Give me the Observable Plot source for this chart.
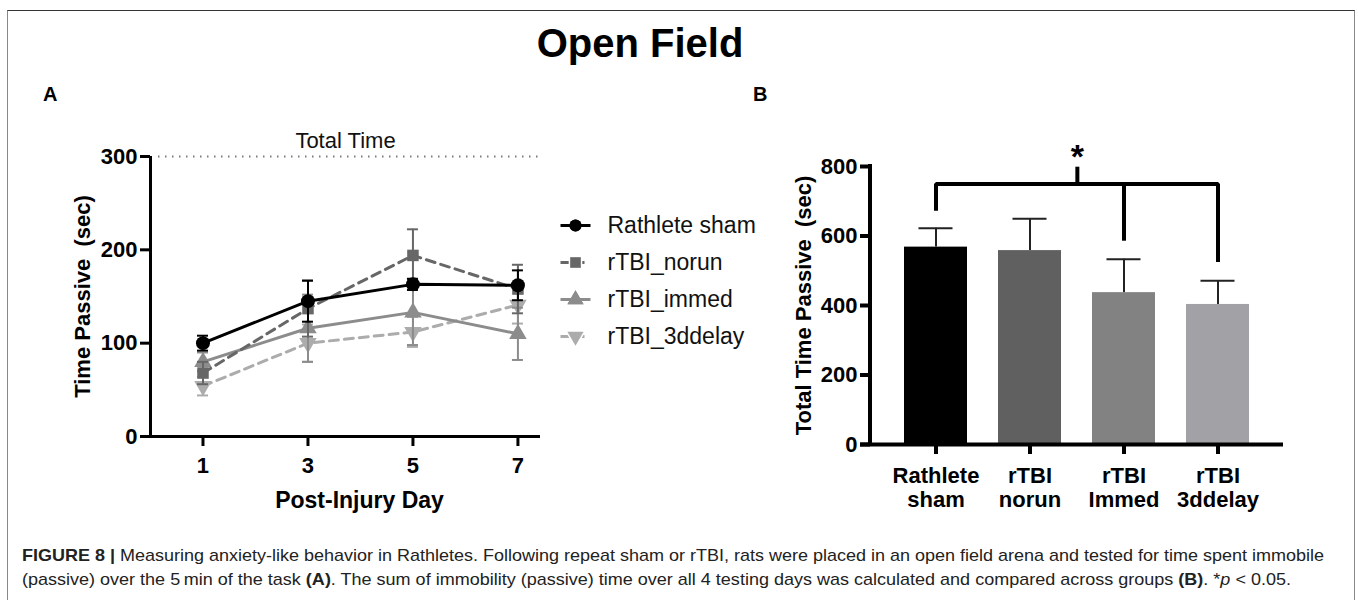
<!DOCTYPE html>
<html>
<head>
<meta charset="utf-8">
<script src="https://cdn.jsdelivr.net/npm/d3@7"></script>
<script src="https://cdn.jsdelivr.net/npm/@observablehq/plot@0.6"></script>
<style>
  html, body { margin: 0; padding: 0; background: #fff; }
  #fig { position: relative; width: 1358px; height: 600px; overflow: hidden; font-family: "Liberation Sans", Arial, sans-serif; color: #000; }
  #border { position: absolute; left: 7px; top: 10px; width: 1346px; height: 600px; border-top: 1.5px solid #333; border-left: 1.5px solid #888; border-right: 1.5px solid #888; }
  .abs { position: absolute; }
  #title { left: 0; width: 1280px; top: 23px; text-align: center; font-size: 40px; font-weight: bold; line-height: 1; }
  .panel { font-size: 20px; font-weight: bold; line-height: 1; }
</style>
</head>
<body>
<div id="fig">
  <div id="border"></div>
  <div id="title" class="abs">Open Field</div>
  <div class="abs panel" style="left:43px; top:84px;">A</div>
  <div class="abs panel" style="left:753px; top:84px;">B</div>
  <div id="panelA" class="abs" style="left:0; top:0;"></div>
  <div id="legendA" class="abs" style="left:540px; top:190px;"></div>
  <div id="panelB" class="abs" style="left:680px; top:0;"></div>
  <div id="caption" class="abs" style="left:0; top:535px;"></div>
</div>
<script>
// ---------------- Data: Panel A ----------------
const days = [1, 3, 5, 7];
const groups = ["Rathlete sham", "rTBI_norun", "rTBI_immed", "rTBI_3ddelay"];
const shamMean  = [100, 145, 163, 162];
const shamErr   = [8, 22, 6, 16];
const norunMean = [68, 137, 194, 158];
const norunErr  = [12, 30, 28, 26];
const immedMean = [80, 116, 133, 110];
const immedErr  = [10, 36, 35, 28];
const delayMean = [54, 100, 112, 141];
const delayErr  = [10, 20, 16, 20];
const totalTime = 300;
const totalTimeLabel = "Total Time";
const yTicksA = [0, 100, 200, 300];

// ---------------- Data: Panel B ----------------
const barNames  = ["Rathlete sham", "rTBI norun", "rTBI Immed", "rTBI 3ddelay"];
const barLabels = ["Rathlete\nsham", "rTBI\nnorun", "rTBI\nImmed", "rTBI\n3ddelay"];
const barMeans  = [568, 558, 437, 403];
const barErrs   = [54, 92, 96, 68];
const yTicksB = [0, 200, 400, 600, 800];
const bracketTop = 750;
const bracketStemTop = 798;
const bracketDrops = [673, null, 585, 525];
const starY = 828;

// ---------------- Styles ----------------
const lineColors = ["#000000", "#676767", "#8c8c8c", "#acacac"];
const lineDash   = [null, "9,6", null, "9,6"];
const symbols    = ["circle", "square", "triangle", "triangle"];
const rotations  = [0, 0, 0, 180];
const barColors  = ["#000000", "#606060", "#828282", "#a2a2a6"];

const means = [shamMean, norunMean, immedMean, delayMean];
const errs  = [shamErr, norunErr, immedErr, delayErr];
const rows = groups.map((g, gi) => days.map((d, i) => ({group: g, gi, day: d, mean: means[gi][i], err: errs[gi][i]})));

const font = "'Liberation Sans', Arial, sans-serif";

// ---------------- Panel A ----------------
const A = {width: 560, height: 520, ml: 150, mr: 20, mt: 156, mb: 84};
const xMaxA = 7.43;
const pxPerDay = (A.width - A.ml - A.mr) / xMaxA;
const capHalf = 5.5 / pxPerDay;

const marksA = [
  Plot.ruleY([totalTime], {stroke: "#7a7a7a", strokeWidth: 2, strokeDasharray: "1.5,5.5", insetLeft: 8}),
  Plot.text([totalTimeLabel], {frameAnchor: "top", lineAnchor: "bottom", dy: -9, dx: 0, fontSize: 22, fill: "#111"})
];
[3, 2, 1, 0].forEach(gi => {
  const data = rows[gi];
  const c = lineColors[gi];
  marksA.push(
    Plot.ruleX(data, {x: "day", y1: d => d.mean - d.err, y2: d => d.mean + d.err, stroke: c, strokeWidth: 2}),
    Plot.ruleY(data, {y: d => d.mean + d.err, x1: d => d.day - capHalf, x2: d => d.day + capHalf, stroke: c, strokeWidth: 2}),
    Plot.ruleY(data, {y: d => d.mean - d.err, x1: d => d.day - capHalf, x2: d => d.day + capHalf, stroke: c, strokeWidth: 2}),
    Plot.line(data, {x: "day", y: "mean", stroke: c, strokeWidth: 3, strokeDasharray: lineDash[gi]}),
    Plot.dot(data, {x: "day", y: "mean", fill: c, stroke: "none", symbol: symbols[gi], r: gi === 0 ? 7 : 6.5, rotate: rotations[gi]})
  );
});
marksA.push(
  Plot.ruleX([0], {stroke: "#000", strokeWidth: 3}),
  Plot.ruleY([0], {stroke: "#000", strokeWidth: 3}),
  Plot.axisY({ticks: yTicksA, tickSize: 10, tickPadding: 3, strokeWidth: 3, fontSize: 22, fontWeight: "bold", label: null}),
  Plot.axisX({ticks: days, tickSize: 10, tickPadding: 11, strokeWidth: 3, fontSize: 22, fontWeight: "bold", label: null}),
  Plot.text(["Time Passive  (sec)"], {frameAnchor: "left", textAnchor: "middle", rotate: -90, dx: -68, fontSize: 22, fontWeight: "bold"}),
  Plot.text(["Post-Injury Day"], {frameAnchor: "bottom", lineAnchor: "middle", dy: 64, dx: 14, fontSize: 23, fontWeight: "bold"})
);

const plotA = Plot.plot({
  width: A.width, height: A.height,
  marginLeft: A.ml, marginRight: A.mr, marginTop: A.mt, marginBottom: A.mb,
  x: {domain: [0, xMaxA]},
  y: {domain: [0, 300]},
  style: {fontFamily: font, color: "#000", background: "transparent", overflow: "visible"},
  marks: marksA
});
document.getElementById("panelA").appendChild(plotA);

// ---------------- Legend A ----------------
const legendRows = groups.map((g, gi) => ({group: g, gi}));
const legendMarks = [];
legendRows.forEach(r => {
  const c = lineColors[r.gi];
  legendMarks.push(
    Plot.link([r], {x1: () => 0, x2: () => 1, y1: "group", y2: "group", stroke: c, strokeWidth: 3, strokeDasharray: lineDash[r.gi]}),
    Plot.dot([r], {x: () => 0.5, y: "group", fill: c, stroke: r.gi % 2 ? "#fff" : "none", strokeWidth: r.gi % 2 ? 3 : 0, symbol: symbols[r.gi], r: 6, rotate: rotations[r.gi]}),
    Plot.dot([r], {x: () => 0.5, y: "group", fill: c, symbol: symbols[r.gi], r: 6, rotate: rotations[r.gi]})
  );
});
legendMarks.push(Plot.text(legendRows, {x: () => 1, y: "group", text: "group", textAnchor: "start", dx: 17, fontSize: 23, fill: "#111"}));
const legend = Plot.plot({
  width: 240, height: 170, margin: 0,
  x: {domain: [0, 1], range: [20, 50], axis: null},
  y: {type: "point", domain: groups, range: [34, 147], padding: 0, axis: null},
  style: {fontFamily: font, color: "#000", background: "transparent", overflow: "visible"},
  marks: legendMarks
});
document.getElementById("legendA").appendChild(legend);

// ---------------- Panel B ----------------
const B = {width: 678, height: 520, ml: 190, mr: 75, mt: 166, mb: 76};
const padInner = 0.335, padOuter = 0.348;
const stepB = (B.width - B.ml - B.mr) / (barNames.length - padInner + 2 * padOuter);
const bandB = stepB * (1 - padInner);
const capInset = (bandB - 34) / 2;
const bars = barNames.map((n, i) => ({name: n, label: barLabels[i], mean: barMeans[i], err: barErrs[i]}));
const bracketPath = [
  {name: barNames[0], y: bracketDrops[0]},
  {name: barNames[0], y: bracketTop},
  {name: barNames[3], y: bracketTop},
  {name: barNames[3], y: bracketDrops[3]}
];
const bracketMid = [{name: barNames[2], y1: bracketDrops[2], y2: bracketTop}];
const stem = [{name: barNames[1], y1: bracketTop, y2: bracketStemTop, star: "*"}];

const plotB = Plot.plot({
  width: B.width, height: B.height,
  marginLeft: B.ml, marginRight: B.mr, marginTop: B.mt, marginBottom: B.mb,
  x: {domain: barNames, paddingInner: padInner, paddingOuter: padOuter},
  y: {domain: [0, 800]},
  color: {domain: barNames, range: barColors},
  style: {fontFamily: font, color: "#000", background: "transparent", overflow: "visible"},
  marks: [
    Plot.ruleX(bars, {x: "name", y1: "mean", y2: d => d.mean + d.err, stroke: "#222", strokeWidth: 2}),
    Plot.tickY(bars, {x: "name", y: d => d.mean + d.err, stroke: "#222", strokeWidth: 2, insetLeft: capInset, insetRight: capInset}),
    Plot.barY(bars, {x: "name", y: "mean", fill: "name"}),
    Plot.line(bracketPath, {x: "name", y: "y", stroke: "#000", strokeWidth: 4, strokeLinejoin: "miter", strokeLinecap: "butt"}),
    Plot.ruleX(bracketMid, {x: "name", y1: "y1", y2: "y2", stroke: "#000", strokeWidth: 4}),
    Plot.ruleX(stem, {x: "name", y1: "y1", y2: "y2", dx: stepB / 2, stroke: "#000", strokeWidth: 4}),
    Plot.text(stem, {x: "name", y: () => starY, text: "star", dx: stepB / 2, fontSize: 34, fontWeight: "bold", lineAnchor: "middle"}),
    Plot.ruleY([0], {stroke: "#000", strokeWidth: 4, insetLeft: -10}),
    Plot.axisY({ticks: yTicksB, tickSize: 10, tickPadding: 3, strokeWidth: 4, fontSize: 22, fontWeight: "bold", label: null}),
    Plot.axisX({tickSize: 10, tickPadding: 11, strokeWidth: 4, fontSize: 22, fontWeight: "bold", lineHeight: 1.1, label: null,
                tickFormat: n => barLabels[barNames.indexOf(n)]}),
    Plot.text(["Total Time Passive  (sec)"], {frameAnchor: "left", textAnchor: "middle", rotate: -90, dx: -67, fontSize: 22, fontWeight: "bold"})
  ]
});
document.getElementById("panelB").appendChild(plotB);
{
  const svg = d3.select(plotB);
  svg.append("line").attr("x1", B.ml).attr("x2", B.ml).attr("y1", B.mt - 2).attr("y2", B.height - B.mb + 2)
     .attr("stroke", "#000").attr("stroke-width", 4);
}

// ---------------- Caption ----------------
const captionLine1Bold = "FIGURE 8 |";
const captionLine1 = " Measuring anxiety-like behavior in Rathletes. Following repeat sham or rTBI, rats were placed in an open field arena and tested for time spent immobile";
const captionLine2 = ["(passive) over the 5\u2009min of the task ", "(A)", ". The sum of immobility (passive) time over all 4 testing days was calculated and compared across groups ", "(B)", ". *", "p", " < 0.05."];
const cap = d3.select("#caption").append("svg").attr("width", 1358).attr("height", 65)
  .style("font-family", font).style("font-size", "17px");
const t1 = cap.append("text").attr("x", 22).attr("y", 26).attr("fill", "#222")
  .attr("textLength", 1302).attr("lengthAdjust", "spacingAndGlyphs");
t1.append("tspan").attr("font-weight", "bold").text(captionLine1Bold);
t1.append("tspan").text(captionLine1);
const t2 = cap.append("text").attr("x", 22).attr("y", 50).attr("fill", "#222")
  .attr("textLength", 1269).attr("lengthAdjust", "spacingAndGlyphs");
captionLine2.forEach((s, i) => {
  const ts = t2.append("tspan").text(s);
  if (s === "(A)" || s === "(B)") ts.attr("font-weight", "bold");
  if (s === "p") ts.attr("font-style", "italic");
});
</script>
</body>
</html>
